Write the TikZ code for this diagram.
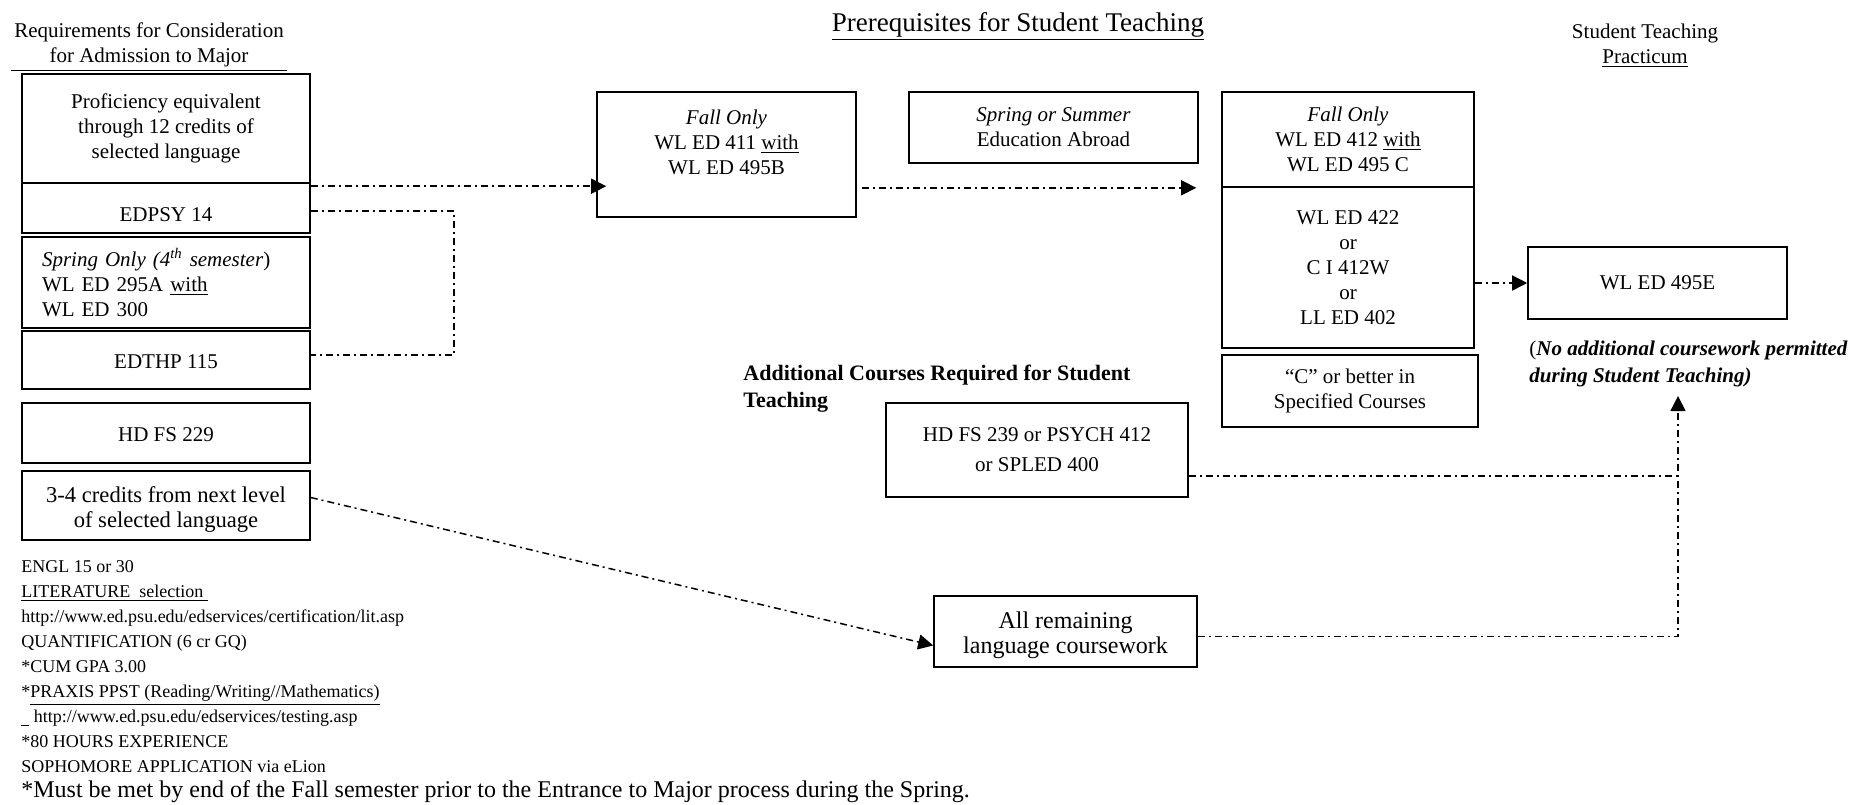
\documentclass[tikz,border=0pt]{standalone}
\usepackage{fontspec}
\setmainfont{Liberation Serif}
\usetikzlibrary{arrows.meta}
\tikzset{box/.style={draw, line width=0.8pt, inner sep=0pt, align=center,
      font=\fontsize{10.5}{12.5}\selectfont},
  link/.style={line width=0.75pt, dash pattern=on 3.5pt off 2pt on 1pt off 2pt},
  tip/.style={-{Triangle[length=7.5pt,width=7.5pt]}}}

\begin{document}
\begin{tikzpicture}[x=0.5pt,y=-0.5pt]
    \useasboundingbox (0,0) rectangle (1855,804);
    % headings
    \node[align=center, inner sep=0pt, font=\fontsize{10.5}{12.5}\selectfont] (reqhead) at (149,47)
      {Requirements for Consideration\\ \underline{\makebox[138pt]{for Admission to Major}}};
    \node[anchor=base, inner sep=0pt, font=\fontsize{13.5}{16}\selectfont] (title) at (1018,31)
      {\underline{Prerequisites for Student Teaching}};
    \node[align=center, inner sep=0pt, font=\fontsize{10.5}{12.5}\selectfont] (sthead) at (1645,46)
      {Student Teaching\\ \underline{Practicum}};
    % admission column
    \node[box, minimum width=144pt, minimum height=54.5pt] (prof) at (166,128.5)
      {Proficiency equivalent\\ through 12 credits of\\ selected language};
    \node[box, minimum width=144pt, minimum height=25pt, text height=14pt] (edpsy) at (166,208) {EDPSY 14};
    \node[box, text width=124pt, inner xsep=10pt, minimum height=45.5pt, align=left] (wled295) at (166,282.5)
      {\textit{Spring Only (4\textsuperscript{th} semester}\/)\\ WL ED 295A \underline{with}\\ WL ED 300};
    \node[box, minimum width=144pt, minimum height=29pt, text height=9pt] (edthp) at (166,360) {EDTHP 115};
    \node[box, minimum width=144pt, minimum height=30pt, text height=9pt] (hdfs229) at (166,433) {HD FS 229};
    \node[box, minimum width=144pt, minimum height=34.5pt, text height=21.5pt, text depth=0pt,
      font=\fontsize{11.3}{12.5}\selectfont] (credits) at (166,505.5)
      {3-4 credits from next level\\ of selected language};
    \node[anchor=north west, inner sep=0pt, align=left, font=\fontsize{9}{12.5}\selectfont] (reqlist) at (21,560)
      {ENGL 15 or 30\\ \underline{LITERATURE\ \ selection\ }\\
       http://www.ed.psu.edu/edservices/certification/lit.asp\\
       QUANTIFICATION (6 cr GQ)\\ *CUM GPA 3.00\\
       *\underline{PRAXIS PPST (Reading/Writing//Mathematics)}\\
       \underline{\hspace{4pt}} http://www.ed.psu.edu/edservices/testing.asp\\
       *80 HOURS EXPERIENCE\\ SOPHOMORE APPLICATION via eLion\\
       {\fontsize{12}{12.5}\selectfont *Must be met by end of the Fall semester prior to the Entrance to Major process during the Spring.}};
    % student teaching prerequisites
    \node[box, minimum width=129.5pt, minimum height=62.5pt] (wled411) at (726.5,154.5)
      {\textit{Fall Only}\\ WL ED 411 \underline{with}\\ WL ED 495B\\ \mbox{}};
    \node[box, minimum width=144.5pt, minimum height=35.5pt] (abroad) at (1053.5,127.5)
      {\textit{Spring or Summer}\\ Education Abroad};
    \node[box, minimum width=126pt, minimum height=47.5pt] (wled412) at (1348,139.5)
      {\textit{Fall Only}\\ WL ED 412 \underline{with}\\ WL ED 495 C};
    \node[box, minimum width=126pt, minimum height=80.5pt] (wled422) at (1348,267.5)
      {WL ED 422\\ or\\ C I 412W\\ or\\ LL ED 402};
    \node[box, minimum width=128pt, minimum height=36pt] (grade) at (1350,391)
      {``C'' or better in\\ Specified Courses};
    \node[anchor=west, inner sep=0pt, align=left, font=\fontsize{11}{13.5}\selectfont\bfseries] (addl) at (743,389)
      {Additional Courses Required for Student\\ Teaching};
    \node[box, minimum width=151pt, minimum height=47pt, font=\fontsize{10.5}{15}\selectfont] (hdfs239) at (1037,450)
      {HD FS 239 or PSYCH 412\\ or SPLED 400};
    \node[box, minimum width=131.5pt, minimum height=35.5pt, text height=22pt, text depth=0pt,
      font=\fontsize{12}{12.5}\selectfont] (remaining) at (1065.5,631.5)
      {All remaining\\ language coursework};
    % practicum
    \node[box, minimum width=129.5pt, minimum height=36pt] (wled495e) at (1657.5,283) {WL ED 495E};
    \node[anchor=west, inner sep=0pt, align=left, font=\fontsize{10.5}{13.5}\selectfont] (note) at (1529,364)
      {(\textbf{\textit{No additional coursework permitted}}\\ \textbf{\textit{during Student Teaching)}}};
    \coordinate (sttip) at (1678,396);
    % connectors
    \draw[link, tip, shorten >=-5pt] ([yshift=-2pt]edpsy.north east) -- ([yshift=-2pt]edpsy.north east -| wled411.west);
    \draw[link, tip, shorten <=2.5pt, shorten >=12.5pt] (wled412.south west -| wled411.east) -- (wled412.south west);
    \draw[link] ([yshift=-1.5pt]edpsy.east) -- ++(143,0) |- ([yshift=2.5pt]edthp.east);
    \draw[link, tip] (wled495e.west -| wled422.east) -- (wled495e.west);
    \draw[link, tip] ([yshift=4pt]credits.east) -- ([yshift=-7pt]remaining.west);
    \draw[link] ([yshift=-13pt]hdfs239.east) -- ([yshift=-13pt]hdfs239.east -| sttip);
    \draw[link, tip] ([yshift=-2.5pt]remaining.east) -| (sttip);
\end{tikzpicture}
\end{document}
